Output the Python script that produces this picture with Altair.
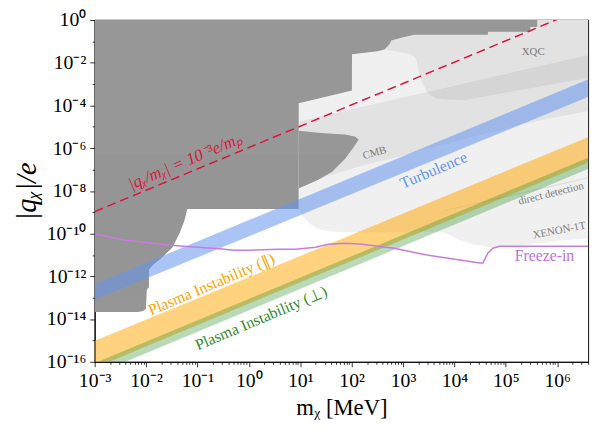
import json
import altair as alt
import numpy as np
import pandas as pd

# ---------------- data (log10 m_chi [MeV], log10 |q|/e) ----------------
# dark grey excluded region (lower boundary, upper = top of plot)
dark_lx = [-3.000, -2.156, -2.060, -2.003, -1.984, -1.945, -1.943, -1.869, -1.677, -1.485, -1.351,
           -1.255, -1.198, 0.969, 0.971, 2.005, 2.007, 2.503, 2.637, 2.733, 2.772, 2.963, 3.213,
           4.651, 4.653, 5.475, 5.477, 5.610, 5.612]
dark_lo = [-13.663, -13.663, -13.617, -13.526, -12.609, -12.517, -11.692, -11.463, -11.096, -10.637,
           -9.995, -9.399, -8.849, -8.849, -3.897, -3.301, -1.605, -1.467, -1.376, -1.146, -0.963,
           -0.825, -0.688, -0.688, -0.550, -0.550, -0.321, -0.321, 0.0]
# dark grey bulge
bulge_lx = [0.969, 1.353, 1.621, 1.870, 2.062, 2.139]
bulge_lo = [-7.886, -7.474, -7.107, -6.511, -5.869, -5.594]
bulge_hi = [-5.181, -5.273, -5.319, -5.364, -5.456, -5.594]
# light region (direct detection / XENON-1T), upper = top
base_lx = [0.969, 1.027, 1.161, 1.334, 1.583, 2.120, 2.829, 3.731, 3.788, 3.922, 4.114, 4.363,
           4.689, 5.130, 5.648, 6.089, 6.607]
base_lo = [-8.849, -9.124, -9.491, -9.766, -9.904, -9.949, -9.949, -9.904, -9.949, -10.087,
           -10.316, -10.500, -10.637, -10.591, -10.454, -10.316, -10.225]
# CMB band
cmb_lx = [0.969, 1.544, 2.254, 2.829, 3.788, 4.747, 5.705, 6.607]
cmb_lo = [-7.795, -7.290, -6.786, -6.465, -5.823, -5.227, -4.677, -4.264]
cmb_hi = [-4.745, -4.429, -4.035, -3.718, -3.191, -2.659, -2.132, -1.637]
# XQC region (lower boundary, upper = top)
xqc_lx = [2.637, 2.963, 3.155, 3.251, 3.309, 3.366, 3.462, 3.539, 3.654, 3.788, 4.171, 6.607]
xqc_lo = [-1.376, -1.513, -1.605, -1.834, -2.430, -2.889, -3.347, -3.530, -3.668, -3.714, -3.760, -2.705]
# faint boundary between direct detection and XENON-1T
dd_lx = [3.788, 6.607]
dd_ly = [-8.941, -7.382]

# bands
band_lx = [-3.0, 6.602]
turb_lo = [-13.07, -3.58]
turb_hi = [-12.38, -2.80]
par_lo = [-16.26, -6.65]
par_hi = [-15.04, -5.50]
perp_lo = [-16.58, -6.95]
perp_hi = [-16.08, -6.47]

# |q/m| = 1e-3 e/m_p
red_lx = [-3.0, 6.602]
red_ly = [-8.97, 0.63]

# freeze-in curve
fi_lx = [-3.000, -2.732, -2.482, -2.060, -1.524, -1.006, -0.565, -0.296, -0.047, 0.586, 0.912,
         1.296, 1.545, 1.870, 2.196, 2.829, 3.462, 3.980, 4.497, 4.555, 4.651, 4.747, 4.881,
         5.380, 6.607]
fi_ly = [-10.018, -10.133, -10.270, -10.408, -10.546, -10.637, -10.706, -10.775, -10.775, -10.729,
         -10.729, -10.637, -10.500, -10.454, -10.500, -10.683, -11.004, -11.187, -11.371, -11.371,
         -10.912, -10.683, -10.591, -10.591, -10.591]

# tick labels
x_exps = list(range(-3, 7))
x_tick_labels = ["10⁻³", "10⁻²", "10⁻¹", "10⁰", "10¹", "10²", "10³", "10⁴", "10⁵", "10⁶"]
y_exps = list(range(-16, 1))
y_tick_labels = ["10⁻¹⁶", "10⁻¹⁴", "10⁻¹²", "10⁻¹⁰", "10⁻⁸", "10⁻⁶", "10⁻⁴", "10⁻²", "10⁰"]

# labels
lab_text = ["Turbulence", "Plasma Instability (∥)", "Plasma Instability (⊥)", "Freeze-in",
            "XQC", "CMB", "direct detection", "XENON-1T"]
lab_lx = [3.596, -0.728, 0.241, 5.753, 5.533, 2.446, 5.878, 6.041]
lab_ly = [-7.038, -12.380, -13.961, -11.050, -1.513, -6.236, -8.138, -9.858]
lab_angle = [337, 337, 337, 0, 0, 345, 346, 349]
lab_color = ["#6495ed", "#ffa500", "#2e8b2e", "#c070dd", "#7a7a7a", "#7a7a7a", "#7a7a7a", "#7a7a7a"]
lab_size = [16, 16, 16, 16, 11, 11, 11, 11]

red_text = ["|qᵪ/mᵪ| = 10⁻³e/mₚ"]
red_tlx = [-1.236]
red_tly = [-6.625]

# ---------------- chart ----------------
FONT = "Liberation Serif"
xmax = 4e6

def p(a):
    return 10 ** np.array(a, dtype=float)

def area_df(lx, lo, hi):
    return pd.DataFrame({"m": p(lx), "lo": p(lo), "hi": p(hi)})

xs = alt.Scale(type="log", domain=[1e-3, xmax], nice=False)
ys = alt.Scale(type="log", domain=[1e-16, 1.0], nice=False)

x_vals = [k * 10.0 ** e for e in x_exps for k in range(1, 10) if k * 10.0 ** e <= xmax * 1.0001]
y_vals = [10.0 ** e for e in y_exps]

LOG = "(log(datum.value)/LN10)"
x_major = f"abs({LOG} - round({LOG})) < 0.01"
y_major = f"(round({LOG}) % 2) == 0"

x_label_expr = f"{x_major} ? {json.dumps(x_tick_labels, ensure_ascii=False)}[round({LOG}) + 3] : ''"
y_label_expr = f"{y_major} ? {json.dumps(y_tick_labels, ensure_ascii=False)}[(round({LOG}) + 16) / 2] : ''"

W, H = 501, 347

xax = alt.Axis(
    values=x_vals, labelExpr=x_label_expr, title="mᵪ [MeV]",
    tickSize={"condition": {"test": x_major, "value": 5}, "value": 2.5},
    labelFont=FONT, labelFontSize=20, labelColor="black", labelPadding=4,
    labelOverlap=False, labelFlush=False, grid=False,
    tickColor="black", tickWidth=0.8, domainColor="black", domainWidth=1,
    titleFont=FONT, titleFontSize=23, titleFontWeight="normal", titleColor="black",
    titleY=47, titleBaseline="middle",
)
yax = alt.Axis(
    values=y_vals, labelExpr=y_label_expr, title="|qᵪ|/e",
    tickSize={"condition": {"test": y_major, "value": 5}, "value": 2.5},
    labelFont=FONT, labelFontSize=20, labelColor="black", labelPadding=4,
    labelOverlap=False, labelFlush=False, grid=False,
    tickColor="black", tickWidth=0.8, domainColor="black", domainWidth=1,
    titleFont=FONT, titleFontSize=29, titleFontStyle="italic", titleFontWeight="normal",
    titleColor="black", titleX=-69, titleY=H / 2, titleBaseline="middle",
)

def X():
    return alt.X("m:Q", scale=xs, axis=xax)

def Y(f):
    return alt.Y(f"{f}:Q", scale=ys, axis=yax)

zeros = lambda a: [0.0] * len(a)

base = alt.Chart(area_df(base_lx, base_lo, zeros(base_lx))).mark_area(
    color="#f0f0f0", clip=True).encode(x=X(), y=Y("lo"), y2="hi:Q")
cmb = alt.Chart(area_df(cmb_lx, cmb_lo, cmb_hi)).mark_area(
    color="black", opacity=0.055, clip=True).encode(x=X(), y=Y("lo"), y2="hi:Q")
xqc = alt.Chart(area_df(xqc_lx, xqc_lo, zeros(xqc_lx))).mark_area(
    color="black", opacity=0.055, clip=True).encode(x=X(), y=Y("lo"), y2="hi:Q")
dark = alt.Chart(area_df(dark_lx, dark_lo, zeros(dark_lx))).mark_area(
    color="#979797", clip=True).encode(x=X(), y=Y("lo"), y2="hi:Q")
bulge = alt.Chart(area_df(bulge_lx, bulge_lo, bulge_hi)).mark_area(
    color="#979797", clip=True).encode(x=X(), y=Y("lo"), y2="hi:Q")

dd = alt.Chart(pd.DataFrame({"m": p(dd_lx), "q": p(dd_ly)})).mark_line(
    color="#d4d4d4", strokeWidth=0.8, clip=True).encode(x=X(), y=Y("q"))

def band(lo, hi, color, op):
    return alt.Chart(area_df(band_lx, lo, hi)).mark_area(
        color=color, opacity=op, stroke=color, strokeWidth=0.8, clip=True
    ).encode(x=X(), y=Y("lo"), y2="hi:Q")

orange = band(par_lo, par_hi, "#ffa500", 0.5)
green = band(perp_lo, perp_hi, "#228b22", 0.32)
blue = band(turb_lo, turb_hi, "#6495ed", 0.55)

red = alt.Chart(pd.DataFrame({"m": p(red_lx), "q": p(red_ly)})).mark_line(
    color="#dc143c", strokeWidth=1.5, strokeDash=[9, 5], clip=True).encode(x=X(), y=Y("q"))

fi = alt.Chart(pd.DataFrame({"m": p(fi_lx), "q": p(fi_ly)})).mark_line(
    color="#c77ddf", strokeWidth=1.5, clip=True).encode(x=X(), y=Y("q"))

labels_df = pd.DataFrame({"m": p(lab_lx), "q": p(lab_ly), "text": lab_text, "angle": lab_angle,
                          "color": lab_color, "size": lab_size})
labels = alt.Chart(labels_df).mark_text(font=FONT, align="center", baseline="middle").encode(
    x=X(), y=Y("q"), text="text:N",
    angle=alt.Angle("angle:Q", scale=None),
    color=alt.Color("color:N", scale=None),
    size=alt.Size("size:Q", scale=None),
)
red_lab = alt.Chart(pd.DataFrame({"m": p(red_tlx), "q": p(red_tly), "text": red_text})).mark_text(
    font=FONT, fontSize=17, fontStyle="italic", color="#dc143c", angle=337,
    align="center", baseline="middle").encode(x=X(), y=Y("q"), text="text:N")

chart = alt.layer(base, cmb, xqc, dark, bulge, dd, orange, green, blue, red, fi, labels, red_lab).properties(
    width=W, height=H,
    autosize=alt.AutoSizeParams(type="none"),
    padding={"left": 88, "top": 9, "right": 10, "bottom": 64},
    background="white",
).configure_view(stroke="#222222", strokeWidth=1.1)

chart.save("out.html", embed_options={"renderer": "svg", "actions": False})
